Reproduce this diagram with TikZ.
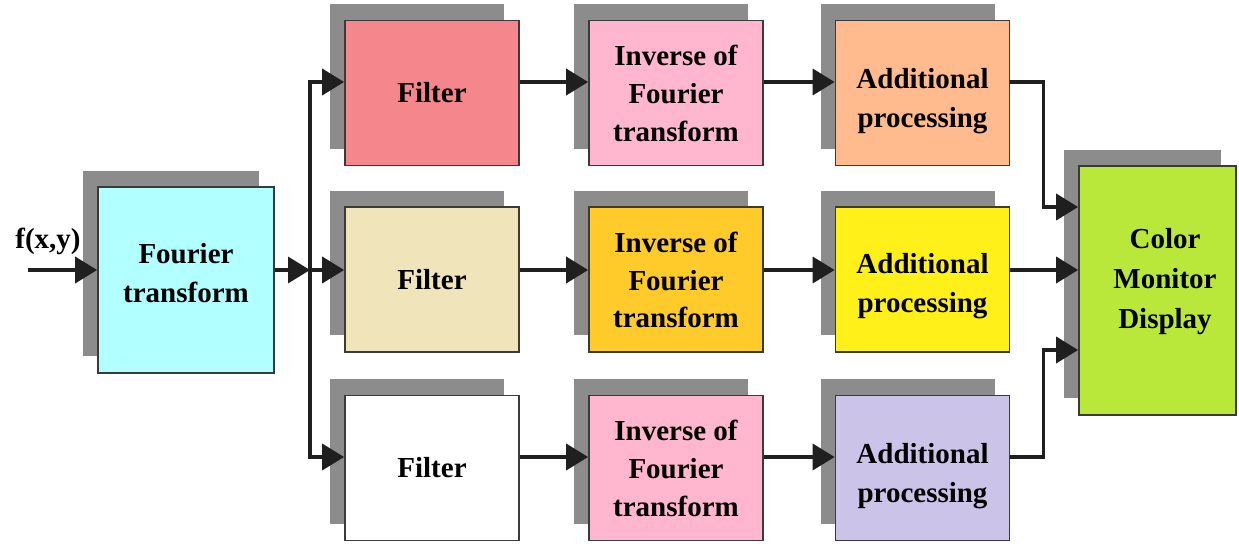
\documentclass[tikz,border=0pt]{standalone}
\usepackage{fontspec}
\setmainfont{Liberation Serif}
\usetikzlibrary{arrows.meta,shadows}
\definecolor{shgray}{HTML}{8C8C8C}
\definecolor{edgegray}{HTML}{3A3A3A}
\definecolor{cFT}{HTML}{B2FFFF}
\definecolor{cF1}{HTML}{F4868C}
\definecolor{cF2}{HTML}{F0E4BA}
\definecolor{cI1}{HTML}{FFB6CE}
\definecolor{cI2}{HTML}{FECB2A}
\definecolor{cA1}{HTML}{FFBB8E}
\definecolor{cA2}{HTML}{FFF01A}
\definecolor{cA3}{HTML}{CCC4E8}
\definecolor{cMon}{HTML}{BAE83A}
\newcommand{\txtlines}[3]{\raisebox{#1}[\height][\depth]{\renewcommand{\arraystretch}{#2}\begin{tabular}{@{}c@{}}#3\end{tabular}}}
\tikzset{
  blk/.style={draw=edgegray, line width=1pt, align=center, inner sep=0pt,
    font=\fontsize{16.5}{21.5}\selectfont\bfseries,
    drop shadow={shadow xshift=-0.3cm, shadow yshift=0.33cm, fill=shgray, opacity=1}},
  colbox/.style={blk, minimum width=3.48cm, minimum height=2.9cm},
  arr/.style={line width=2.1pt, black!88, -{Triangle[length=0.44cm,width=0.52cm]}},
  lbl/.style={font=\fontsize{16.5}{20}\selectfont\bfseries, inner sep=0pt}
}
\begin{document}
\begin{tikzpicture}[x=0.02cm, y=-0.02cm]
\useasboundingbox (0,0) rectangle (1239,553);
\fill[white] (0,0) rectangle (1239,553);
% nodes
\node[blk, fill=cFT, minimum width=3.52cm, minimum height=3.72cm] (ft) at (186,280) {\txtlines{0.1cm}{1.04}{Fourier\\transform}};
\node[colbox, fill=cF1] (f1) at (432,93) {Filter};
\node[colbox, fill=cF2] (f2) at (432,279.5) {Filter};
\node[colbox, fill=white] (f3) at (432,468) {Filter};
\node[colbox, fill=cI1] (i1) at (676,93) {\txtlines{-0.06cm}{1}{Inverse of\\Fourier\\transform}};
\node[colbox, fill=cI2] (i2) at (676,279.5) {\txtlines{-0.06cm}{1}{Inverse of\\Fourier\\transform}};
\node[colbox, fill=cI1] (i3) at (676,468) {\txtlines{-0.06cm}{1}{Inverse of\\Fourier\\transform}};
\node[colbox, fill=cA1] (a1) at (922.5,93) {\txtlines{-0.14cm}{1.04}{Additional\\processing}};
\node[colbox, fill=cA2] (a2) at (922.5,279.5) {\txtlines{-0.11cm}{1.04}{Additional\\processing}};
\node[colbox, fill=cA3] (a3) at (922.5,468) {\txtlines{-0.14cm}{1.04}{Additional\\processing}};
\node[blk, fill=cMon, minimum width=3.14cm, minimum height=4.98cm] (mon) at (1157.5,290.5) {\hspace{0.3cm}\txtlines{0.2cm}{1.06}{Color\\Monitor\\Display}};
% label and coordinates
\node[lbl] (fxy) at (48,241) {f(x,y)};
\coordinate (in) at (28,270);
\coordinate (y1) at (0,82);
\coordinate (y2) at (0,270);
\coordinate (y3) at (0,457);
\coordinate (bus) at (310,270);
\coordinate (m1) at (0,207);
\coordinate (m3) at (0,350);
% connectors
\draw[arr] (in) -- (ft.west |- y2);
\draw[arr] (ft.east |- y2) -- (bus);
\draw[arr] (bus) |- (f1.west |- y1);
\draw[arr] (bus) -- (f2.west |- y2);
\draw[arr] (bus) |- (f3.west |- y3);
\draw[arr] (f1.east |- y1) -- (i1.west |- y1);
\draw[arr] (f2.east |- y2) -- (i2.west |- y2);
\draw[arr] (f3.east |- y3) -- (i3.west |- y3);
\draw[arr] (i1.east |- y1) -- (a1.west |- y1);
\draw[arr] (i2.east |- y2) -- (a2.west |- y2);
\draw[arr] (i3.east |- y3) -- (a3.west |- y3);
\draw[arr] (a1.east |- y1) -- ++(33,0) |- (mon.west |- m1);
\draw[arr] (a2.east |- y2) -- (mon.west |- y2);
\draw[arr] (a3.east |- y3) -- ++(33,0) |- (mon.west |- m3);
\end{tikzpicture}
\end{document}
